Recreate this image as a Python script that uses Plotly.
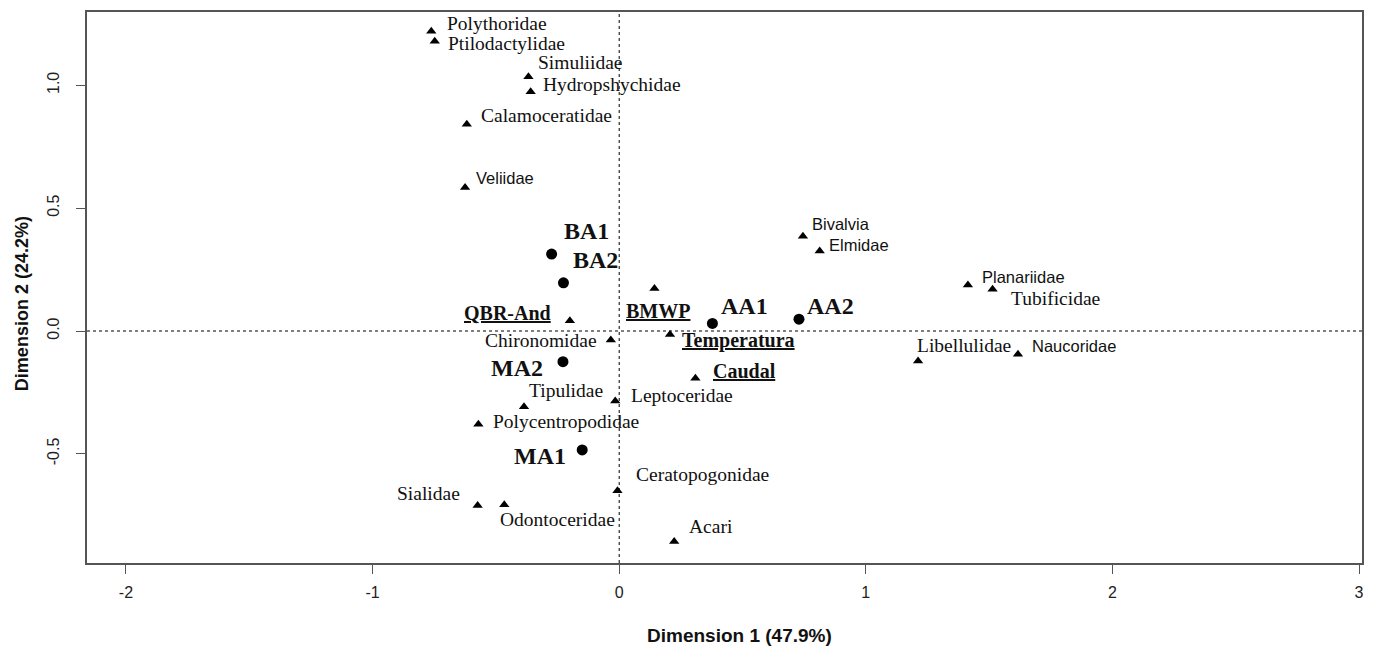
import plotly.graph_objects as go

# ---------------- data ----------------
species = ["Polythoridae", "Ptilodactylidae", "Simuliidae", "Hydropshychidae",
           "Calamoceratidae", "Veliidae", "Chironomidae", "Tipulidae",
           "Leptoceridae", "Polycentropodidae", "Ceratopogonidae", "Sialidae",
           "Odontoceridae", "Acari", "Bivalvia", "Elmidae", "Planariidae",
           "Tubificidae", "Libellulidae", "Naucoridae"]
species_x = [-0.762, -0.748, -0.368, -0.359, -0.618, -0.625, -0.034, -0.386,
             -0.016, -0.571, -0.007, -0.574, -0.466, 0.223, 0.745, 0.813,
             1.414, 1.514, 1.212, 1.617]
species_y = [1.220, 1.179, 1.035, 0.974, 0.841, 0.584, -0.037, -0.308,
             -0.285, -0.379, -0.650, -0.710, -0.707, -0.857, 0.386, 0.326,
             0.187, 0.170, -0.122, -0.095]

variables = ["QBR-And", "BMWP", "Temperatura", "Caudal"]
variables_x = [-0.200, 0.143, 0.206, 0.309]
variables_y = [0.042, 0.173, -0.014, -0.192]

sites = ["BA1", "BA2", "AA1", "AA2", "MA2", "MA1"]
sites_x = [-0.274, -0.226, 0.378, 0.729, -0.228, -0.150]
sites_y = [0.313, 0.196, 0.031, 0.048, -0.125, -0.484]

x_ticks = [-2, -1, 0, 1, 2, 3]
y_ticks = [-0.5, 0.0, 0.5, 1.0]
x_title = "Dimension 1 (47.9%)"
y_title = "Dimension 2 (24.2%)"

# ---------------- label placement (style, not data) ----------------
# anchor, dx (px), dy (px, positive = down)
species_lab = {
    "Polythoridae": ("left", 14, -8), "Ptilodactylidae": ("left", 11, 2),
    "Simuliidae": ("left", 8, -14), "Hydropshychidae": ("left", 10, -7),
    "Calamoceratidae": ("left", 12, -9), "Veliidae": ("left", 9, -9),
    "Chironomidae": ("right", -12, 0), "Tipulidae": ("left", 3, -16),
    "Leptoceridae": ("left", 14, -6), "Polycentropodidae": ("left", 13, -3),
    "Ceratopogonidae": ("left", 17, -16), "Sialidae": ("right", -16, -12),
    "Odontoceridae": ("left", -6, 15), "Acari": ("left", 13, -15),
    "Bivalvia": ("left", 7, -12), "Elmidae": ("left", 7, -6),
    "Planariidae": ("left", 12, -8), "Tubificidae": ("left", 16, 9),
    "Libellulidae": ("left", -3, -15), "Naucoridae": ("left", 12, -8),
}
sans_species = {"Veliidae", "Bivalvia", "Elmidae", "Planariidae", "Naucoridae"}
variables_lab = {
    "QBR-And": ("right", -17, -8), "BMWP": ("center", 4, 23),
    "Temperatura": ("left", 10, 6), "Caudal": ("left", 16, -7),
}
sites_lab = {
    "BA1": ("left", 10, -23), "BA2": ("left", 8, -23), "AA1": ("left", 7, -17),
    "AA2": ("left", 6, -13), "MA2": ("right", -18, 6), "MA1": ("right", -14, 6),
}

SERIF = "Liberation Serif, Times New Roman, serif"
SANS = "Liberation Sans, Arial, sans-serif"
INK = "#111111"

fig = go.Figure()
fig.add_trace(go.Scatter(x=species_x, y=species_y, mode="markers",
                         marker=dict(symbol="triangle-up", size=9, color="black"),
                         hoverinfo="text", text=species, showlegend=False))
fig.add_trace(go.Scatter(x=variables_x, y=variables_y, mode="markers",
                         marker=dict(symbol="triangle-up", size=9, color="black"),
                         hoverinfo="text", text=variables, showlegend=False))
fig.add_trace(go.Scatter(x=sites_x, y=sites_y, mode="markers",
                         marker=dict(symbol="circle", size=11, color="black"),
                         hoverinfo="text", text=sites, showlegend=False))

annotations = []
for name, x, y in zip(species, species_x, species_y):
    anc, dx, dy = species_lab[name]
    sans = name in sans_species
    annotations.append(dict(x=x, y=y, xref="x", yref="y", text=name, showarrow=False,
                            xanchor=anc, yanchor="middle", xshift=dx, yshift=-dy,
                            font=dict(family=SANS if sans else SERIF,
                                      size=16.5 if sans else 19.5, color=INK)))
for name, x, y in zip(variables, variables_x, variables_y):
    anc, dx, dy = variables_lab[name]
    annotations.append(dict(x=x, y=y, xref="x", yref="y", text="<b><u>" + name + "</u></b>",
                            showarrow=False, xanchor=anc, yanchor="middle",
                            xshift=dx, yshift=-dy,
                            font=dict(family=SERIF, size=20, color=INK)))
for name, x, y in zip(sites, sites_x, sites_y):
    anc, dx, dy = sites_lab[name]
    annotations.append(dict(x=x, y=y, xref="x", yref="y", text="<b>" + name + "</b>",
                            showarrow=False, xanchor=anc, yanchor="middle",
                            xshift=dx, yshift=-dy,
                            font=dict(family=SERIF, size=24, color=INK)))

annotations.append(dict(x=0.5114, y=-0.131, xref="paper", yref="paper",
                        text="<b>" + x_title + "</b>", showarrow=False,
                        xanchor="center", yanchor="middle",
                        font=dict(family=SANS, size=19, color=INK)))
annotations.append(dict(x=-0.0509, y=0.470, xref="paper", yref="paper",
                        text="<b>" + y_title + "</b>", showarrow=False,
                        textangle=-90, xanchor="center", yanchor="middle",
                        font=dict(family=SANS, size=18, color=INK)))

shapes = [
    dict(type="line", xref="x", yref="paper", x0=0, x1=0, y0=0, y1=1,
         line=dict(color="black", width=1, dash="dot")),
    dict(type="line", xref="paper", yref="y", x0=0, x1=1, y0=0, y1=0,
         line=dict(color="black", width=1, dash="dot")),
]

axis_common = dict(showgrid=False, zeroline=False, showline=True, mirror=True,
                   linecolor="#555555", linewidth=1.5, ticks="outside",
                   ticklen=9, tickwidth=1.2, tickcolor="#555555",
                   tickfont=dict(family=SANS, size=16, color="#222222"))

fig.update_layout(
    width=1374, height=646,
    margin=dict(l=87, r=10, t=12, b=83),
    paper_bgcolor="white", plot_bgcolor="white",
    xaxis=dict(range=[-2.158, 3.012], tickvals=x_ticks,
               ticktext=[str(v) for v in x_ticks], ticklabelstandoff=5,
               **axis_common),
    yaxis=dict(range=[-0.944, 1.298], tickvals=y_ticks,
               ticktext=["%.1f" % v for v in y_ticks], tickangle=-90,
               ticklabelstandoff=11, **axis_common),
    annotations=annotations, shapes=shapes,
)

fig.write_html("out.html", config={"displayModeBar": False},
               post_script="document.body.style.margin='0';"
                           "document.body.style.overflow='hidden';")
